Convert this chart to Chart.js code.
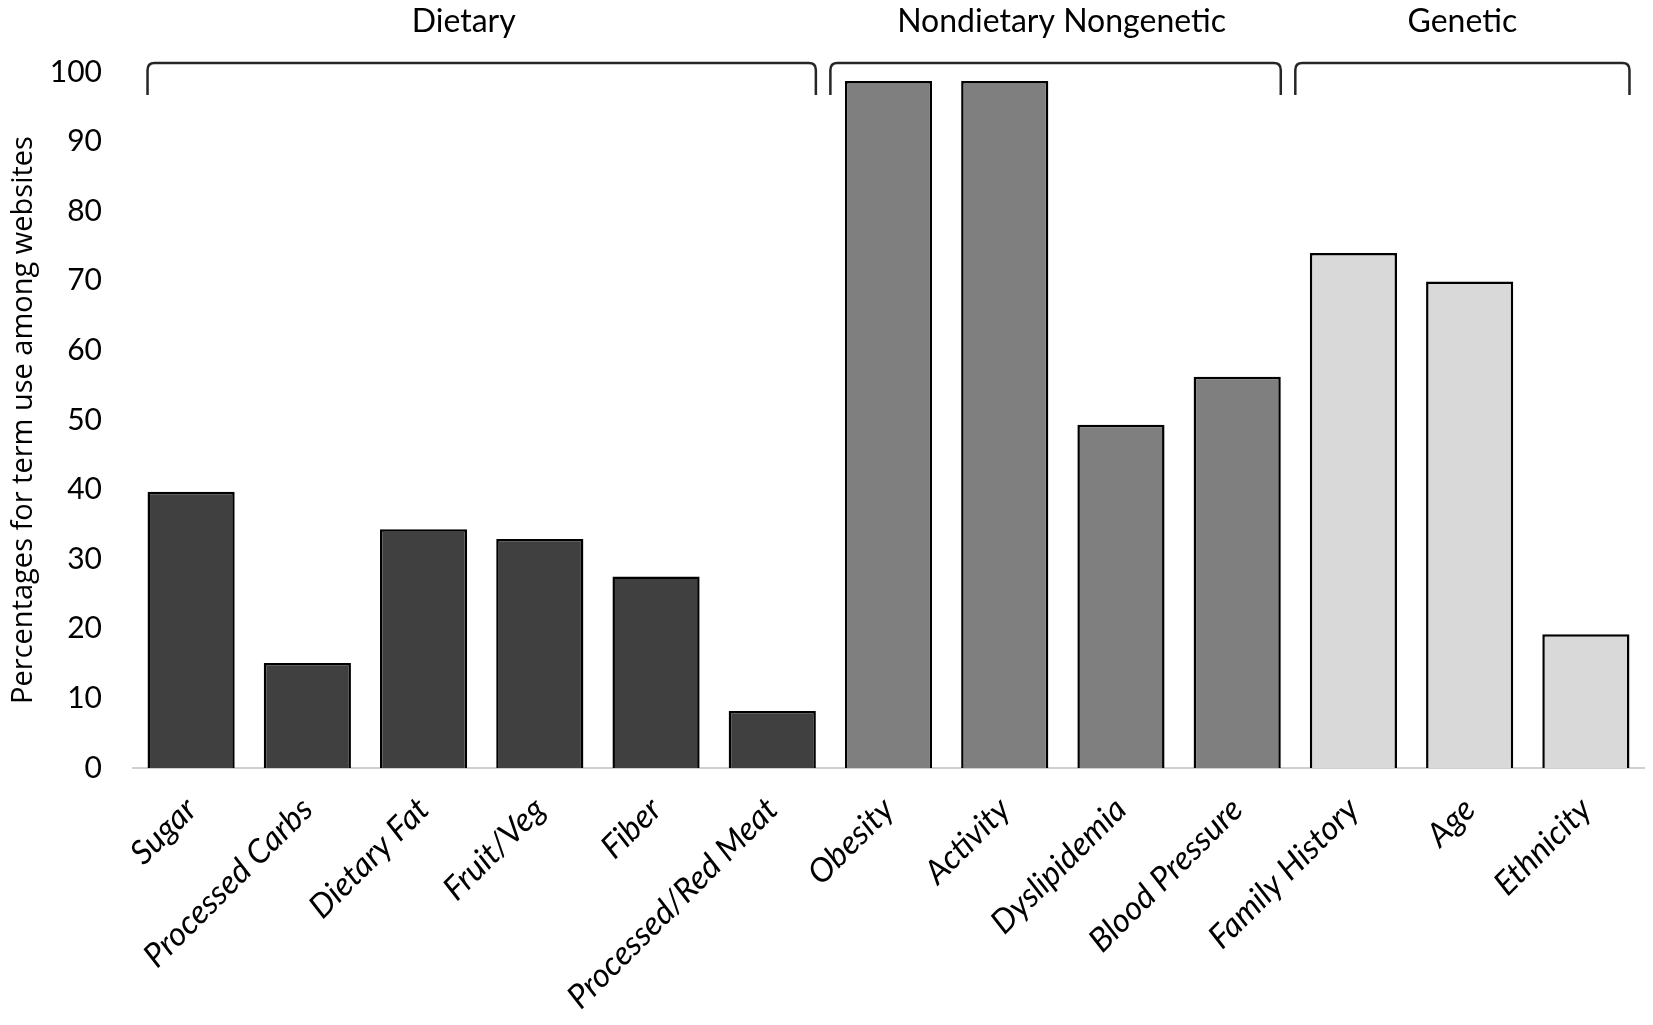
<!DOCTYPE html>
<html>
<head>
<meta charset="utf-8">
<script src="https://cdn.jsdelivr.net/npm/chart.js@4/dist/chart.umd.min.js"></script>
<style>
    html, body { margin: 0; padding: 0; background: #fff; }
    #wrap { width: 1653px; height: 1025px; }
</style>
</head>
<body>
<div id="wrap"><canvas id="chart"></canvas></div>
<script>
const categories = ['Sugar', 'Processed Carbs', 'Dietary Fat', 'Fruit/Veg', 'Fiber', 'Processed/Red Meat',
    'Obesity', 'Activity', 'Dyslipidemia', 'Blood Pressure', 'Family History', 'Age', 'Ethnicity'];
const percentages = [39.7, 15.1, 34.3, 32.9, 27.5, 8.2, 98.7, 98.7, 49.3, 56.2, 74.0, 69.9, 19.2];
const groupNames = ['Dietary', 'Nondietary Nongenetic', 'Genetic'];
const groupOfCategory = [0, 0, 0, 0, 0, 0, 1, 1, 1, 1, 2, 2, 2];
const groupColors = ['#404040', '#7f7f7f', '#d9d9d9'];
const yMin = 0, yMax = 100, yStep = 10;

const ctx = document.querySelector('#chart').getContext('2d');

// brackets + group names above the bars
const groupBrackets = {
    id: 'groupBrackets',
    afterDraw(chart) {
        const x = chart.scales.x;
        const c = chart.ctx;
        const step = x.getPixelForValue(1) - x.getPixelForValue(0);
        const barHalf = step * 0.375;
        const top = 63, bottom = 95, r = 7;
        c.save();
        c.strokeStyle = '#262626';
        c.lineWidth = 2.5;
        c.fillStyle = '#000';
        c.font = '32px Lato';
        c.textAlign = 'center';
        c.textBaseline = 'middle';
        groupNames.forEach((name, g) => {
            const idx = groupOfCategory.map((v, i) => v === g ? i : -1).filter(i => i >= 0);
            const first = idx[0], last = idx[idx.length - 1];
            // first group starts at the bar edge, others at the category boundary
            const x0 = g === 0 ? x.getPixelForValue(first) - barHalf : x.getPixelForValue(first) - step / 2;
            const x1 = x.getPixelForValue(last) + barHalf;
            c.beginPath();
            c.moveTo(x0, bottom);
            c.lineTo(x0, top + r);
            c.quadraticCurveTo(x0, top, x0 + r, top);
            c.lineTo(x1 - r, top);
            c.quadraticCurveTo(x1, top, x1, top + r);
            c.lineTo(x1, bottom);
            c.stroke();
            const mid = g === 0 ? (x0 + x1) / 2 - 18 : (x0 + x1) / 2 + (g === 1 ? 6 : 0);
            c.fillText(name, mid, 22);
        });
        c.restore();
    }
};

new Chart(ctx, {
    type: 'bar',
    data: {
        labels: categories,
        datasets: [{
            data: percentages,
            backgroundColor: groupOfCategory.map(g => groupColors[g]),
            borderColor: '#000',
            borderWidth: 2.5,
            borderSkipped: 'start',
            barPercentage: 0.75,
            categoryPercentage: 1
        }]
    },
    options: {
        responsive: true,
        maintainAspectRatio: false,
        animation: false,
        layout: { padding: { top: 72, right: 9, left: 0, bottom: 0 } },
        plugins: {
            legend: { display: false },
            tooltip: { enabled: false }
        },
        scales: {
            x: {
                grid: { display: false, drawTicks: false },
                border: { display: true, color: '#d0d0d0', width: 2 },
                ticks: {
                    color: '#000',
                    font: { family: 'Lato', size: 33, style: 'italic' },
                    maxRotation: 45,
                    minRotation: 45,
                    autoSkip: false,
                    padding: 22
                },
                afterFit: scale => { scale.height = 257; }
            },
            y: {
                min: yMin,
                max: yMax,
                grid: { display: false, drawTicks: false },
                border: { display: false },
                ticks: {
                    stepSize: yStep,
                    color: '#000',
                    font: { family: 'Lato', size: 30 },
                    padding: 31
                },
                title: {
                    display: true,
                    text: 'Percentages for term use among websites',
                    color: '#000',
                    font: { family: 'Open Sans', size: 29 },
                    padding: { top: 6, bottom: 0 }
                },
                afterFit: scale => { scale.width = 133; }
            }
        }
    },
    plugins: [groupBrackets]
});
</script>
</body>
</html>
